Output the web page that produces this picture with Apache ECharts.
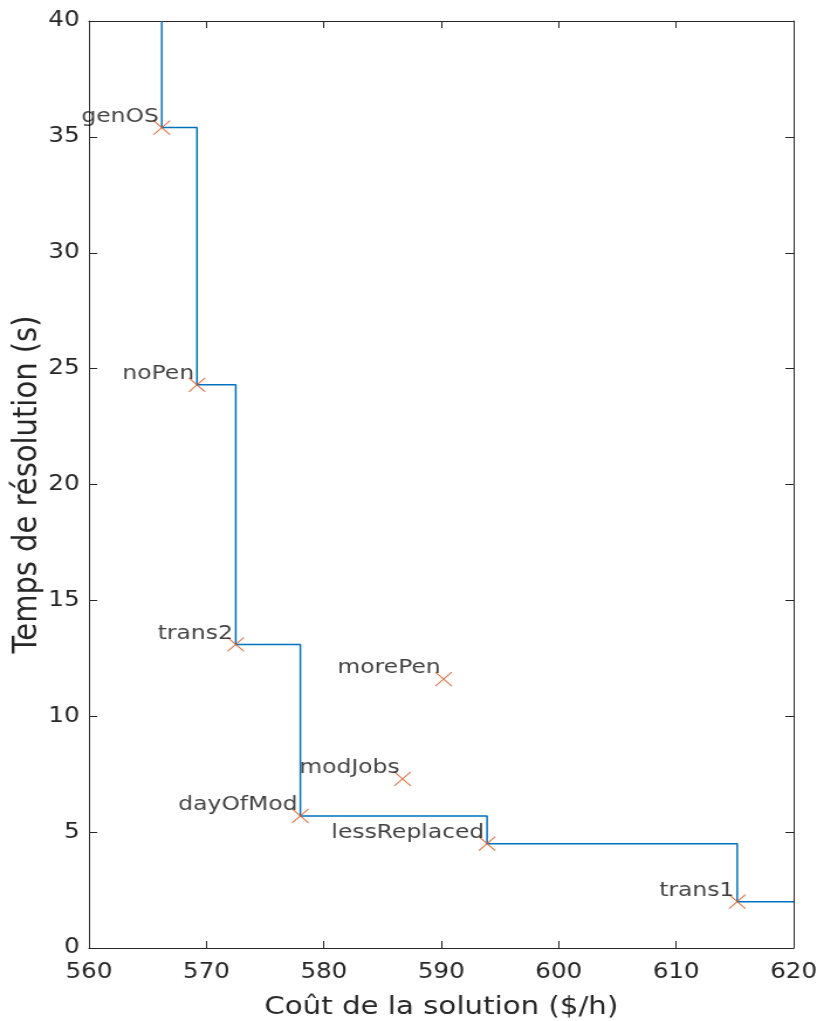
<!DOCTYPE html>
<html>
<head>
<meta charset="utf-8">
<script src="https://cdn.jsdelivr.net/npm/echarts@6/dist/echarts.min.js"></script>
<style>
  html, body { margin: 0; padding: 0; background: #fff; overflow: hidden; }
  /* the reference image is stretched horizontally, so draw narrower and stretch */
  #main { width: 698px; height: 1021px; transform: scaleX(1.1705); transform-origin: 0 0; }
</style>
</head>
<body>
<div id="main"></div>
<script>
var names = ["genOS", "noPen", "trans2", "dayOfMod", "modJobs", "morePen", "lessReplaced", "trans1"];
var cost = [566.2, 569.2, 572.5, 578.0, 586.7, 590.2, 593.9, 615.2];
var time = [35.4, 24.3, 13.1, 5.7, 7.3, 11.6, 4.5, 2.0];
// points of the Pareto front, in order along the staircase
var front = ["genOS", "noPen", "trans2", "dayOfMod", "lessReplaced", "trans1"];
var xTicks = [560, 570, 580, 590, 600, 610, 620];
var yTicks = [0, 5, 10, 15, 20, 25, 30, 35, 40];

var myChart = echarts.init(document.getElementById("main"));

var stairs = [];
front.forEach(function (n, i) {
  var k = names.indexOf(n);
  if (i === 0) stairs.push([cost[k], 40]);
  stairs.push([cost[k], time[k]]);
});
stairs.push([620, time[names.indexOf("trans1")]]);

var pts = names.map(function (n, i) {
  return { name: n, value: [cost[i], time[i]] };
});

var font = "DejaVu Sans";
var axisCol = "#262626";

option = {
  backgroundColor: "#fff",
  animation: false,
  grid: { left: 76, right: 20, top: 21, bottom: 73, outerBoundsMode: "none" },
  xAxis: [
    {
      type: "value", min: xTicks[0], max: xTicks[xTicks.length - 1], interval: 10,
      name: "Coût de la solution ($/h)", nameLocation: "middle", nameGap: 47,
      nameMoveOverlap: false,
      nameTextStyle: { fontFamily: font, fontSize: 25, color: axisCol },
      axisLine: { lineStyle: { color: axisCol, width: 1 } },
      axisTick: { inside: true, length: 7, lineStyle: { color: axisCol } },
      axisLabel: { fontFamily: font, fontSize: 21, color: axisCol, margin: 14 },
      splitLine: { show: false }
    },
    {
      type: "value", position: "top", min: 560, max: 620, interval: 10,
      axisLine: { onZero: false, lineStyle: { color: axisCol, width: 1 } },
      axisTick: { inside: true, length: 7, lineStyle: { color: axisCol } },
      axisLabel: { show: false }, splitLine: { show: false }
    }
  ],
  yAxis: [
    {
      type: "value", min: yTicks[0], max: yTicks[yTicks.length - 1], interval: 5,
      name: "Temps de résolution (s)", nameLocation: "middle", nameGap: 38,
      nameMoveOverlap: false,
      nameTextStyle: { fontFamily: font, fontSize: 29, color: axisCol },
      axisLine: { show: true, lineStyle: { color: axisCol, width: 1 } },
      axisTick: { show: true, inside: true, length: 7, lineStyle: { color: axisCol } },
      axisLabel: { fontFamily: font, fontSize: 21, color: axisCol, margin: 8 },
      splitLine: { show: false }
    },
    {
      type: "value", position: "right", min: 0, max: 40, interval: 5,
      axisLine: { show: true, onZero: false, lineStyle: { color: axisCol, width: 1 } },
      axisTick: { show: true, inside: true, length: 7, lineStyle: { color: axisCol } },
      axisLabel: { show: false }, splitLine: { show: false }
    }
  ],
  series: [
    {
      type: "line", data: stairs, step: "end", showSymbol: false,
      lineStyle: { color: "#0072BD", width: 1.5 }, z: 2
    },
    {
      type: "scatter", data: pts,
      symbol: "path://M0,0L10,10M10,0L0,10", symbolSize: 14,
      itemStyle: { color: "none", borderColor: "#D95319", borderWidth: 1.1 },
      label: {
        show: true, formatter: "{b}", position: "left", distance: -7, offset: [0, -11],
        fontFamily: font, fontSize: 20, color: "#111"
      },
      z: 3
    }
  ]
};

myChart.setOption(option);
</script>
</body>
</html>
